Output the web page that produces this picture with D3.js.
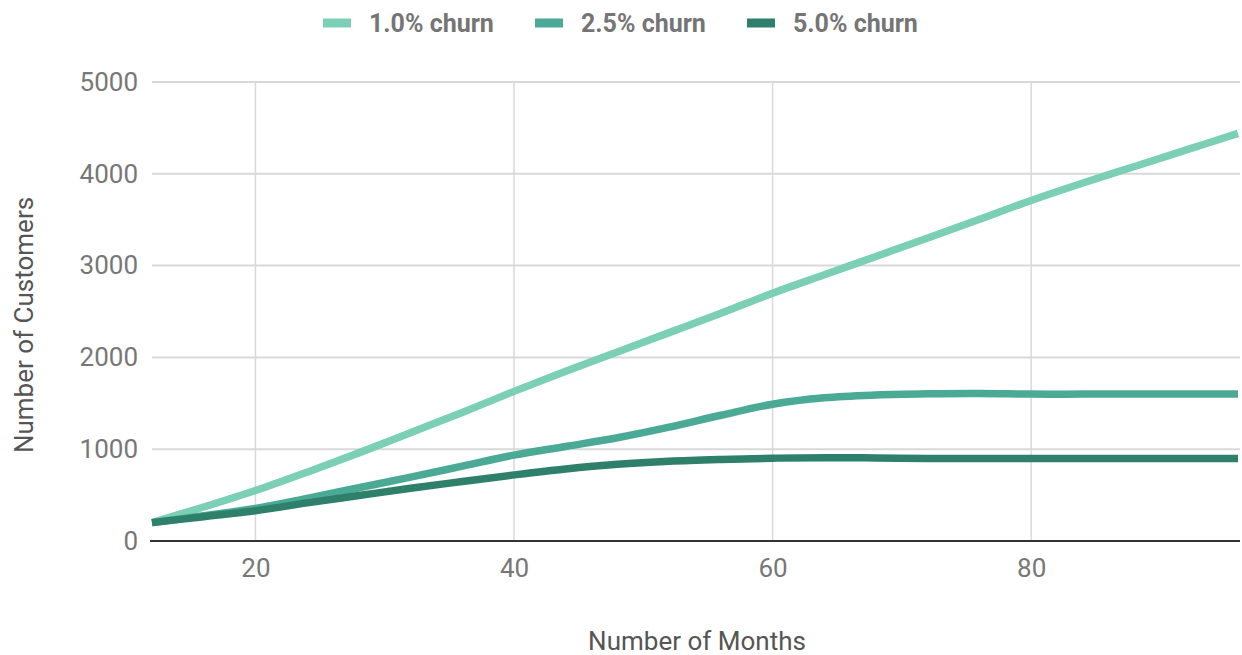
<!DOCTYPE html>
<html>
<head>
<meta charset="utf-8">
<script src="https://cdn.jsdelivr.net/npm/d3@7"></script>
<style>
  html, body { margin: 0; padding: 0; background: #fff; }
  svg { display: block; }
  text { font-family: Roboto, "Noto Sans", sans-serif; }
</style>
</head>
<body>
<svg id="chart" width="1242" height="655"></svg>
<script>
// Customer growth over time under three monthly churn rates
const months = [12, 16, 20, 24, 28, 32, 36, 40, 44, 48, 52, 56, 60, 64, 68, 72, 76, 80, 84, 88, 92, 96];
const churn1 = [200, 370, 550, 750, 960, 1180, 1400, 1630, 1850, 2060, 2270, 2480, 2700, 2900, 3100, 3300, 3505, 3710, 3900, 4080, 4260, 4440];
const churn25 = [200, 275, 355, 465, 580, 695, 815, 935, 1030, 1125, 1240, 1370, 1490, 1560, 1590, 1603, 1607, 1600, 1600, 1600, 1600, 1600];
const churn5 = [200, 265, 330, 415, 495, 575, 648, 720, 785, 835, 868, 888, 902, 908, 905, 900, 900, 900, 900, 900, 900, 900];

const seriesNames = ["1.0% churn", "2.5% churn", "5.0% churn"];
const seriesValues = [churn1, churn25, churn5];
const seriesColors = ["#7acfb4", "#4aaa96", "#2e806a"];

const xTicks = [20, 40, 60, 80];
const yTicks = [0, 1000, 2000, 3000, 4000, 5000];

const svg = d3.select("#chart");
const plot = { left: 152, right: 1240, top: 82, bottom: 541 };

const x = d3.scaleLinear().domain([12, 96]).range([plot.left, plot.right - 2]);
const y = d3.scaleLinear().domain([0, 5000]).range([plot.bottom, plot.top]);

// horizontal gridlines
svg.append("g")
  .selectAll("line")
  .data(yTicks.filter(d => d > 0))
  .join("line")
  .attr("x1", plot.left).attr("x2", plot.right)
  .attr("y1", d => y(d)).attr("y2", d => y(d))
  .attr("stroke", "#d9d9d9").attr("stroke-width", 2);

// vertical gridlines
svg.append("g")
  .selectAll("line")
  .data(xTicks)
  .join("line")
  .attr("x1", d => x(d)).attr("x2", d => x(d))
  .attr("y1", plot.top).attr("y2", plot.bottom)
  .attr("stroke", "#d9d9d9").attr("stroke-width", 1.5);

// y tick labels
const yAxis = d3.axisLeft(y).tickValues(yTicks).tickFormat(d3.format("d")).tickSize(0).tickPadding(14);
const gy = svg.append("g").attr("transform", `translate(${plot.left},0)`).call(yAxis);
gy.select(".domain").remove();
gy.selectAll("text")
  .attr("font-size", 26)
  .attr("fill", "#777")
  .style("font-family", "Roboto, sans-serif");

// x tick labels
const xAxis = d3.axisBottom(x).tickValues(xTicks).tickFormat(d3.format("d")).tickSize(0).tickPadding(18);
const gx = svg.append("g").attr("transform", `translate(0,${plot.bottom})`).call(xAxis);
gx.select(".domain").remove();
gx.selectAll("text")
  .attr("font-size", 26)
  .attr("fill", "#777")
  .style("font-family", "Roboto, sans-serif");

// series lines
const line = d3.line()
  .x((d, i) => x(months[i]))
  .y(d => y(d))
  .curve(d3.curveCatmullRom.alpha(0.5));

svg.append("g")
  .selectAll("path")
  .data(seriesValues)
  .join("path")
  .attr("d", d => line(d))
  .attr("fill", "none")
  .attr("stroke", (d, i) => seriesColors[i])
  .attr("stroke-width", 7.5)
  .attr("stroke-linejoin", "round");

// baseline
svg.append("line")
  .attr("x1", plot.left - 2).attr("x2", plot.right)
  .attr("y1", y(0)).attr("y2", y(0))
  .attr("stroke", "#333").attr("stroke-width", 2);

// axis titles
svg.append("text")
  .attr("x", 697).attr("y", 650)
  .attr("text-anchor", "middle")
  .attr("font-size", 26)
  .attr("fill", "#555")
  .text("Number of Months");

svg.append("text")
  .attr("transform", "translate(33,325) rotate(-90)")
  .attr("text-anchor", "middle")
  .attr("font-size", 26)
  .attr("fill", "#555")
  .text("Number of Customers");

// legend
const legendX = [323, 535, 747];
const legend = svg.append("g")
  .selectAll("g")
  .data(seriesNames)
  .join("g")
  .attr("transform", (d, i) => `translate(${legendX[i]},23)`);

legend.append("rect")
  .attr("x", 0).attr("y", -4.5)
  .attr("width", 28).attr("height", 9)
  .attr("fill", (d, i) => seriesColors[i]);

legend.append("text")
  .attr("x", 46).attr("y", 9)
  .attr("font-size", 25)
  .attr("font-weight", "bold")
  .attr("fill", "#757575")
  .text(d => d);
</script>
</body>
</html>
